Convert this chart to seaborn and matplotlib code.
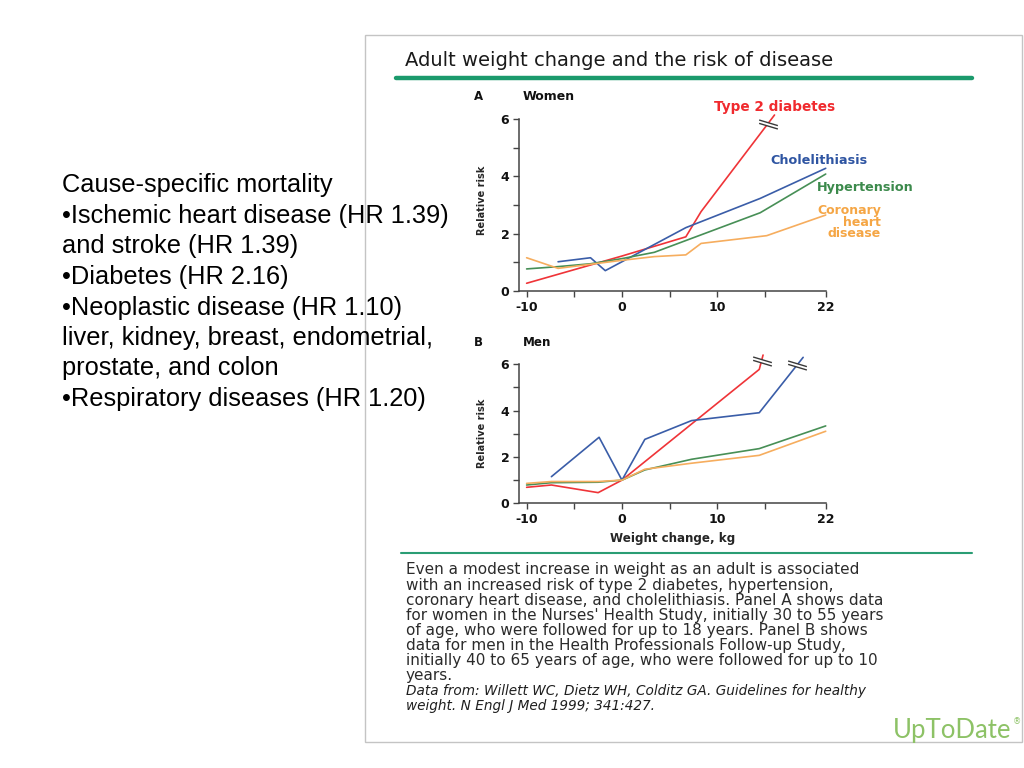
import numpy as np
import pandas as pd
import matplotlib
matplotlib.use("Agg")
import matplotlib.pyplot as plt
import seaborn as sns
from matplotlib.path import Path
from matplotlib.lines import Line2D
from matplotlib.patches import Rectangle

# ---------------- data ----------------
diseases = ["Type 2 diabetes", "Cholelithiasis", "Hypertension", "Coronary heart disease"]

# Panel A: women (weight change kg, relative risk)
w_diab_x = [-10, 0, 6.7, 8.3, 16.1]
w_diab_y = [0.27, 1.22, 1.89, 2.77, 6.14]
w_chol_x = [-6.7, -3.3, -1.75, 6.7, 14.5, 22]
w_chol_y = [1.02, 1.16, 0.71, 2.21, 3.23, 4.28]
w_hyp_x = [-10, -6.7, -3.3, 0, 3.4, 14.5, 22]
w_hyp_y = [0.77, 0.85, 0.95, 1.13, 1.35, 2.73, 4.08]
w_chd_x = [-10, -6.7, 0, 3.4, 6.7, 8.3, 15.2, 22]
w_chd_y = [1.16, 0.79, 1.07, 1.2, 1.26, 1.66, 1.93, 2.65]

# Panel B: men
m_diab_x = [-10, -7.4, -2.5, 0, 14.4, 14.8]
m_diab_y = [0.69, 0.79, 0.46, 1.0, 5.78, 6.4]
m_chol_x = [-7.4, -2.4, 0, 2.4, 7.3, 14.4, 19.4]
m_chol_y = [1.15, 2.85, 1.0, 2.76, 3.57, 3.91, 6.3]
m_hyp_x = [-10, -7.4, -2.5, 0, 2.4, 7.3, 14.4, 22]
m_hyp_y = [0.79, 0.89, 0.91, 1.0, 1.44, 1.9, 2.36, 3.34]
m_chd_x = [-10, -7.4, -2.5, 0, 2.4, 7.3, 14.4, 22]
m_chd_y = [0.86, 0.94, 0.94, 1.0, 1.47, 1.73, 2.07, 3.11]

# axis break levels (relative risk where the broken line is cut)
w_diab_break = 5.83
m_diab_break = 6.15
m_chol_break = 5.97

x_ticks = [-10, -5, 0, 5, 10, 15, 22]
x_ticklabels = ["-10", "", "0", "", "10", "", "22"]
y_ticks = [0, 1, 2, 3, 4, 5, 6]
y_ticklabels = ["0", "", "2", "", "4", "", "6"]

title = "Adult weight change and the risk of disease"
caption_lines = [
    "Even a modest increase in weight as an adult is associated",
    "with an increased risk of type 2 diabetes, hypertension,",
    "coronary heart disease, and cholelithiasis. Panel A shows data",
    "for women in the Nurses' Health Study, initially 30 to 55 years",
    "of age, who were followed for up to 18 years. Panel B shows",
    "data for men in the Health Professionals Follow-up Study,",
    "initially 40 to 65 years of age, who were followed for up to 10",
    "years.",
]
source_lines = [
    "Data from: Willett WC, Dietz WH, Colditz GA. Guidelines for healthy",
    "weight. N Engl J Med 1999; 341:427.",
]
slide_lines = [
    "Cause-specific mortality",
    "\u2022Ischemic heart disease (HR 1.39)",
    "and stroke (HR 1.39)",
    "\u2022Diabetes (HR 2.16)",
    "\u2022Neoplastic disease (HR 1.10)",
    "liver, kidney, breast, endometrial,",
    "prostate, and colon",
    "\u2022Respiratory diseases (HR 1.20)",
]

# ---------------- style ----------------
sns.set_style("white")
plt.rcParams["font.family"] = ["DejaVu Sans"]

line_colors = {
    "Type 2 diabetes": "#ef3438",
    "Cholelithiasis": "#3a5da8",
    "Hypertension": "#478f56",
    "Coronary heart disease": "#f6ad5e",
}
label_colors = {
    "Type 2 diabetes": "#f02a2e",
    "Cholelithiasis": "#2f55a2",
    "Hypertension": "#3c8a4c",
    "Coronary heart disease": "#f5a645",
}

W, H = 1024, 768
fig = plt.figure(figsize=(W / 100, H / 100), dpi=100)
fig.patch.set_facecolor("white")


def fx(px):
    return px / W


def fy(py):
    return 1 - py / H


# figure frame
fig.add_artist(Rectangle((fx(365), fy(742)), fx(1022) - fx(365), fy(35) - fy(742),
                         transform=fig.transFigure, fill=False, edgecolor="#c4c4c4",
                         linewidth=1.0, zorder=0))

# title and rules
fig.text(fx(405), fy(61), title, fontsize=14, color="#1a1a1a", va="center", ha="left")
fig.add_artist(Line2D([fx(396), fx(972)], [fy(78), fy(78)], transform=fig.transFigure,
                      color="#1b9a6c", linewidth=3.2))
fig.add_artist(Line2D([fx(401), fx(972)], [fy(553), fy(553)], transform=fig.transFigure,
                      color="#2a9d74", linewidth=1.5))

K = 0.91


def fwd(x):
    x = np.asarray(x, dtype=float)
    return np.where(x <= 15, x, 15 + (x - 15) * K)


def inv(x):
    x = np.asarray(x, dtype=float)
    return np.where(x <= 15, x, 15 + (x - 15) / K)


def make_df(series):
    frames = []
    for name, xs, ys in series:
        frames.append(pd.DataFrame({"kg": xs, "rr": ys, "disease": name}))
    return pd.concat(frames, ignore_index=True)


women = make_df([
    ("Type 2 diabetes", w_diab_x, w_diab_y),
    ("Cholelithiasis", w_chol_x, w_chol_y),
    ("Hypertension", w_hyp_x, w_hyp_y),
    ("Coronary heart disease", w_chd_x, w_chd_y),
])
men = make_df([
    ("Type 2 diabetes", m_diab_x, m_diab_y),
    ("Cholelithiasis", m_chol_x, m_chol_y),
    ("Hypertension", m_hyp_x, m_hyp_y),
    ("Coronary heart disease", m_chd_x, m_chd_y),
])

axA = fig.add_axes([fx(519), fy(291), fx(825.7) - fx(519), fy(119) - fy(291)])
axB = fig.add_axes([fx(519), fy(503.3), fx(825.7) - fx(519), fy(364.3) - fy(503.3)])

gap_path = Path([(-1, 0.48), (1, -0.12), (1, -0.48), (-1, 0.12), (-1, 0.48)],
                [Path.MOVETO, Path.LINETO, Path.LINETO, Path.LINETO, Path.CLOSEPOLY])
mark_path = Path([(-1, 0.48), (1, -0.12), (-1, 0.12), (1, -0.48)],
                 [Path.MOVETO, Path.LINETO, Path.MOVETO, Path.LINETO])


def draw_break(ax, xs, ys, yb):
    xb = np.interp(yb, ys[-2:], xs[-2:])
    ax.plot([xb], [yb], marker=gap_path, markersize=13.5, markerfacecolor="white",
            markeredgewidth=0, linestyle="none", clip_on=False, zorder=5)
    ax.plot([xb], [yb], marker=mark_path, markersize=13.5, markerfacecolor="none",
            markeredgecolor="#3a3a3a", markeredgewidth=1.0, linestyle="none",
            clip_on=False, zorder=6)


for ax, df in ((axA, women), (axB, men)):
    sns.lineplot(data=df, x="kg", y="rr", hue="disease", hue_order=diseases,
                 palette=line_colors, estimator=None, sort=False, legend=False,
                 linewidth=1.2, ax=ax)
    for ln in ax.lines:
        ln.set_clip_on(False)
    ax.set_xscale("function", functions=(fwd, inv))
    ax.set_xlim(-10.8, 22)
    ax.set_ylim(0, 6)
    ax.set_xticks(x_ticks, x_ticklabels, fontweight="bold", fontsize=9)
    ax.set_yticks(y_ticks, y_ticklabels, fontweight="bold", fontsize=9)
    ax.minorticks_off()
    ax.tick_params(axis="both", direction="out", length=4, width=1.0, color="#444444",
                   labelcolor="#111111", pad=3, bottom=True, left=True)
    for s in ("top", "right"):
        ax.spines[s].set_visible(False)
    for s in ("left", "bottom"):
        ax.spines[s].set_color("#444444")
        ax.spines[s].set_linewidth(1.1)
    ax.set_facecolor("none")
    ax.set_xlabel("")
    ax.set_ylabel("Relative risk", fontweight="bold", fontsize=7, labelpad=6)

axA.yaxis.set_label_coords(-0.105, 0.53)
axB.yaxis.set_label_coords(-0.105, 0.5)
axB.set_xlabel("Weight change, kg", fontweight="bold", fontsize=8.6, labelpad=4)

draw_break(axA, w_diab_x, w_diab_y, w_diab_break)
draw_break(axB, m_diab_x, m_diab_y, m_diab_break)
draw_break(axB, m_chol_x, m_chol_y, m_chol_break)

# panel headers
fig.text(fx(474), fy(97), "A", fontsize=8.5, fontweight="bold", va="center", color="#111")
fig.text(fx(523), fy(97), "Women", fontsize=9, fontweight="bold", va="center", color="#111")
fig.text(fx(474), fy(342), "B", fontsize=8.5, fontweight="bold", va="center", color="#111")
fig.text(fx(523), fy(342), "Men", fontsize=8.6, fontweight="bold", va="center", color="#111")

# series labels (panel A)
fig.text(fx(714), fy(107), "Type 2 diabetes", fontsize=9.8, fontweight="bold", va="center",
         color=label_colors["Type 2 diabetes"])
fig.text(fx(770), fy(161), "Cholelithiasis", fontsize=9.2, fontweight="bold", va="center",
         color=label_colors["Cholelithiasis"])
fig.text(fx(817), fy(188), "Hypertension", fontsize=9.2, fontweight="bold", va="center",
         color=label_colors["Hypertension"])
fig.text(fx(881), fy(222), "Coronary\nheart\ndisease", fontsize=9, fontweight="bold",
         va="center", ha="right", multialignment="right", linespacing=0.85,
         color=label_colors["Coronary heart disease"])

# caption
cap_y = [574, 590, 605, 620.3, 635, 650, 665, 680]
for yy, t in zip(cap_y, caption_lines):
    fig.text(fx(406), fy(yy), t, fontsize=11, color="#2b2b2b", va="baseline")
for yy, t in zip([695, 710], source_lines):
    fig.text(fx(406), fy(yy), t, fontsize=9.8, style="italic", color="#1f1f1f", va="baseline")

# logo
fig.text(fx(1011), fy(738), "UpToDate", fontsize=18.5, color="#8dc266", ha="right",
         va="baseline", family=["Lato", "DejaVu Sans"])
fig.text(fx(1013), fy(722), "\u00ae", fontsize=6, color="#8dc266", ha="left", va="center")

# slide text
slide_y = [191.7, 222.7, 252.7, 284, 315, 345, 375, 406]
for yy, t in zip(slide_y, slide_lines):
    fig.text(fx(62), fy(yy), t, fontsize=18.3, color="black", va="baseline",
             family=["Liberation Sans", "DejaVu Sans"], zorder=10)

fig.savefig("out.png", dpi=100)
